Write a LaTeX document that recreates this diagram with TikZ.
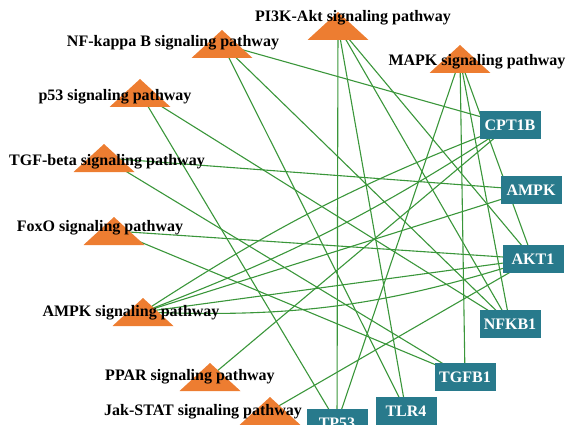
\documentclass[tikz,border=0pt]{standalone}
\usepackage{fontspec}
\setmainfont{Liberation Serif}
\usetikzlibrary{backgrounds}
\definecolor{pathorange}{RGB}{237,125,49}
\definecolor{geneteal}{RGB}{40,122,140}
\definecolor{linkgreen}{RGB}{58,150,58}
\tikzset{%
  gene/.style={fill=geneteal, text=white, font=\bfseries\fontsize{16}{16}\selectfont,
               minimum width=61pt, minimum height=28pt, inner sep=0pt},
  pwlabel/.style={font=\bfseries\fontsize{16}{16}\selectfont, inner sep=0pt},
  link/.style={draw=linkgreen, line width=1.1pt},
  pathtri/.pic={\fill[pathorange] (-30.5,14) -- (30.5,14) -- (0,-14) -- cycle;},
}

\begin{document}
\begin{tikzpicture}[x=1pt, y=-1pt]
\useasboundingbox (0,0) rectangle (567,425);

% pathway triangles (centres)
\coordinate (nfkb) at (222,44);
\coordinate (pik) at (338,26);
\coordinate (mapk) at (460,59);
\coordinate (pft) at (140,93);
\coordinate (tgfb) at (104,158);
\coordinate (foxo) at (114,231);
\coordinate (ampksp) at (143,312);
\coordinate (ppar) at (210,377);
\coordinate (jak) at (270,411);

% target genes
\node[gene] (CPT1B) at (510,125) {CPT1B};
\node[gene] (AMPK) at (531,190) {AMPK};
\node[gene] (AKT1) at (533,259) {AKT1};
\node[gene] (NFKB1) at (510,324) {NFKB1};
\node[gene] (TGFB1) at (465,377) {TGFB1};
\node[gene] (TLR4) at (406,411) {TLR4};
\node[gene] (TP53) at (337,423) {TP53};

% links go under the nodes
\begin{scope}[on background layer]
\draw[link] (nfkb) -- (CPT1B.center);
\draw[link] (nfkb) -- (NFKB1.center);
\draw[link] (nfkb) -- (TLR4.center);
\draw[link] (pik) -- (TP53.center);
\draw[link] (pik) -- (TLR4.center);
\draw[link] (pik) -- (NFKB1.center);
\draw[link] (pik) -- (AKT1.center);
\draw[link] (mapk) -- (TP53.center);
\draw[link] (mapk) -- (TGFB1.center);
\draw[link] (mapk) -- (NFKB1.center);
\draw[link] (mapk) -- (AKT1.center);
\draw[link] (pft) -- (TP53.center);
\draw[link] (pft) -- (NFKB1.center);
\draw[link] (tgfb) -- (AMPK.center);
\draw[link] (tgfb) -- (TGFB1.center);
\draw[link] (foxo) -- (AKT1.center);
\draw[link] (foxo) -- (TGFB1.center);
% double links are drawn as bent pairs
\draw[link] (ampksp) to[bend left=6] (CPT1B.center);
\draw[link] (ampksp) to[bend right=6] (CPT1B.center);
\draw[link] (ampksp) -- (AMPK.center);
\draw[link] (ampksp) -- (AKT1.center);
\draw[link] (ampksp) to[bend right=10] (AKT1.center);
\draw[link] (ppar) -- (CPT1B.center);
\draw[link] (jak) -- (AKT1.center);
\end{scope}

\foreach \p in {nfkb,pik,mapk,pft,tgfb,foxo,ampksp,ppar,jak}
  \pic at (\p) {pathtri};

% pathway names
\node[pwlabel] (lnfkb) at (173,43) {NF-kappa B signaling pathway};
\node[pwlabel] (lpik) at (353,18) {PI3K-Akt signaling pathway};
\node[pwlabel] (lmapk) at (477,62) {MAPK signaling pathway};
\node[pwlabel] (lpft) at (115,97) {p53 signaling pathway};
\node[pwlabel] (ltgfb) at (107,162) {TGF-beta signaling pathway};
\node[pwlabel] (lfoxo) at (100,228) {FoxO signaling pathway};
\node[pwlabel] (lampksp) at (131,313) {AMPK signaling pathway};
\node[pwlabel] (lppar) at (190,377) {PPAR signaling pathway};
\node[pwlabel] (ljak) at (203,412) {Jak-STAT signaling pathway};

\end{tikzpicture}
\end{document}
